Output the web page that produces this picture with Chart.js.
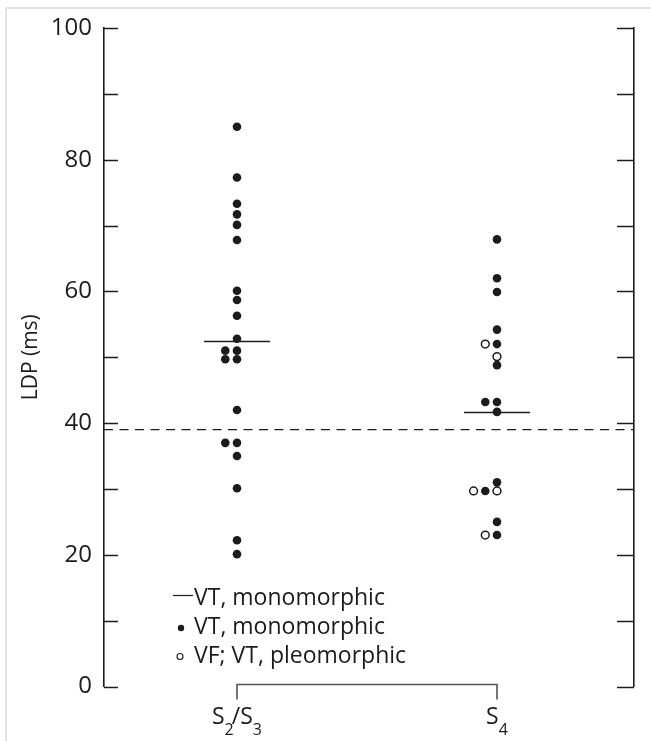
<!DOCTYPE html>
<html>
<head>
<meta charset="utf-8">
<script src="https://cdn.jsdelivr.net/npm/chart.js@4.4.0/dist/chart.umd.min.js"></script>
<style>
  html, body { margin: 0; padding: 0; background: #fff; overflow: hidden; }
  #wrap { position: relative; width: 651px; height: 741px; overflow: hidden; }
  #frame { position: absolute; left: 5px; top: 7px; width: 700px; height: 800px;
           border-top: 2px solid #e3e3e3; border-left: 2px solid #e3e3e3; }
  canvas { position: absolute; left: 0; top: 0; }
</style>
</head>
<body>
<div id="wrap">
  <div id="frame"></div>
  <canvas id="ldpChart" width="651" height="741"></canvas>
</div>
<script>
// categories (underscore = subscript)
const groups = ['S_2/S_3', 'S_4'];
const yTickLabels = [0, 20, 40, 60, 80, 100];
const yTickMarks = [0, 10, 20, 30, 40, 50, 60, 70, 80, 90, 100];
const legendLabels = ['VT, monomorphic', 'VT, monomorphic', 'VF; VT, pleomorphic'];

// S2/S3 - all VT monomorphic (filled)
const s23Filled = [85.0, 77.3, 73.3, 71.7, 70.1, 67.8, 60.1, 58.7, 56.3, 52.8, 51.0, 51.0, 49.7, 49.7, 42.0, 37.0, 37.0, 35.0, 30.1, 22.2, 20.1];
const s23FilledLane = [0, 0, 0, 0, 0, 0, 0, 0, 0, 0, -1, 0, -1, 0, 0, -1, 0, 0, 0, 0, 0];

// S4 - filled (VT monomorphic) and open (VF; VT pleomorphic)
const s4Filled = [67.9, 62.0, 59.9, 54.2, 52.0, 48.8, 43.2, 43.2, 41.7, 31.0, 29.7, 25.0, 23.0];
const s4FilledLane = [0, 0, 0, 0, 0, 0, -1, 0, 0, 0, -1, 0, 0];
const s4Open = [52.0, 50.1, 29.7, 29.7, 23.0];
const s4OpenLane = [-1, 0, -2, 0, -1];

const medians = [52.4, 41.6];
const cutoff = 39;

const FONT = "'Open Sans', sans-serif";
const INK = '#1c1c1c';
const X_MIN = 0.4885, X_MAX = 2.527;
const LANE = 0.045;      // side-by-side dot spacing
const MED_HALF = 0.127;  // half width of median bar

const toPoints = (g, vals, lanes) => vals.map((v, i) => ({ x: g + lanes[i] * LANE, y: v }));

const filledPts = toPoints(1, s23Filled, s23FilledLane).concat(toPoints(2, s4Filled, s4FilledLane));
const openPts = toPoints(2, s4Open, s4OpenLane);

const decor = {
    id: 'decor',
    afterDraw(chart) {
        const ctx = chart.ctx;
        const xs = chart.scales.x, ys = chart.scales.y;
        const area = chart.chartArea;
        ctx.save();

        // tick marks pointing inward on both axes
        ctx.strokeStyle = INK;
        ctx.lineWidth = 1.5;
        yTickMarks.forEach(v => {
            const y = Math.round(ys.getPixelForValue(v)) + 0.5;
            ctx.beginPath();
            ctx.moveTo(area.left, y); ctx.lineTo(area.left + 14, y);
            ctx.moveTo(area.right - 17, y); ctx.lineTo(area.right, y);
            ctx.stroke();
        });

        // bracket joining the groups
        const by = ys.getPixelForValue(0) - 2;
        const x1 = xs.getPixelForValue(1), x2 = xs.getPixelForValue(2);
        ctx.strokeStyle = '#555';
        ctx.lineWidth = 1.6;
        ctx.beginPath();
        ctx.moveTo(x1, by + 15); ctx.lineTo(x1, by); ctx.lineTo(x2, by); ctx.lineTo(x2, by + 15);
        ctx.stroke();

        // category labels with subscripts
        ctx.fillStyle = INK;
        ctx.textBaseline = 'alphabetic';
        groups.forEach((lab, i) => {
            const parts = [];
            lab.split(/(_\w)/).forEach(p => {
                if (!p) return;
                if (p[0] === '_') parts.push({ t: p.slice(1), sub: true });
                else parts.push({ t: p, sub: false });
            });
            let w = 0;
            parts.forEach((p, k) => {
                ctx.font = (p.sub ? '16px ' : '23px ') + FONT;
                p.w = ctx.measureText(p.t).width - (p.sub && k < parts.length - 1 ? 2 : 0);
                w += p.w;
            });
            let x = xs.getPixelForValue(i + 1) - w / 2;
            parts.forEach(p => {
                ctx.font = (p.sub ? '16px ' : '23px ') + FONT;
                ctx.fillText(p.t, x, p.sub ? 735 : 724);
                x += p.w;
            });
        });

        // legend
        const rows = [605, 634, 662.5];
        ctx.font = '23px ' + FONT;
        ctx.fillStyle = INK;
        legendLabels.forEach((t, i) => ctx.fillText(t, 194, rows[i]));
        ctx.strokeStyle = INK;
        ctx.lineWidth = 1.2;
        ctx.beginPath();
        ctx.moveTo(173, rows[0] - 9.5); ctx.lineTo(193, rows[0] - 9.5);
        ctx.stroke();
        ctx.beginPath();
        ctx.arc(181, rows[1] - 6, 3.2, 0, Math.PI * 2);
        ctx.fill();
        ctx.beginPath();
        ctx.lineWidth = 1.1;
        ctx.arc(180, rows[2] - 6, 3, 0, Math.PI * 2);
        ctx.stroke();

        ctx.restore();
    }
};

const ctx = document.getElementById('ldpChart').getContext('2d');
new Chart(ctx, {
    type: 'scatter',
    data: {
        datasets: [
            {
                label: 'VT, monomorphic',
                data: filledPts,
                pointRadius: 4.3,
                pointBorderWidth: 0,
                backgroundColor: INK,
                borderColor: INK
            },
            {
                label: 'VF; VT, pleomorphic',
                data: openPts,
                pointRadius: 3.9,
                pointBorderWidth: 1.5,
                backgroundColor: '#ffffff',
                borderColor: INK
            },
            {
                label: 'median S2/S3',
                data: [{ x: 1 - MED_HALF, y: medians[0] }, { x: 1 + MED_HALF, y: medians[0] }],
                showLine: true,
                pointRadius: 0,
                borderColor: INK,
                borderWidth: 1.5
            },
            {
                label: 'median S4',
                data: [{ x: 2 - MED_HALF, y: medians[1] }, { x: 2 + MED_HALF, y: medians[1] }],
                showLine: true,
                pointRadius: 0,
                borderColor: INK,
                borderWidth: 1.5
            },
            {
                label: 'cutoff',
                data: [{ x: X_MIN, y: cutoff }, { x: X_MAX, y: cutoff }],
                showLine: true,
                pointRadius: 0,
                borderColor: INK,
                borderWidth: 1.3,
                borderDash: [9, 6.5]
            }
        ]
    },
    options: {
        responsive: false,
        animation: false,
        devicePixelRatio: 1,
        layout: {
            padding: { top: 28, bottom: 54.5, left: 0, right: 0 }
        },
        plugins: {
            legend: { display: false },
            tooltip: { enabled: false }
        },
        scales: {
            x: {
                type: 'linear',
                min: X_MIN,
                max: X_MAX,
                display: false
            },
            y: {
                position: 'left',
                min: 0,
                max: 100,
                afterBuildTicks: s => { s.ticks = yTickLabels.map(v => ({ value: v })); },
                afterFit: s => { s.width = 104; },
                grid: { display: false, drawTicks: false },
                border: { display: true, color: INK, width: 1.6 },
                ticks: {
                    padding: 12,
                    color: INK,
                    font: { family: FONT, size: 24 }
                },
                title: {
                    display: true,
                    text: 'LDP (ms)',
                    color: INK,
                    font: { family: FONT, size: 21 },
                    padding: { top: 18, bottom: 0 }
                }
            },
            y2: {
                position: 'right',
                min: 0,
                max: 100,
                afterFit: s => { s.width = 17; },
                grid: { display: false, drawTicks: false },
                ticks: { display: false },
                border: { display: true, color: INK, width: 1.6 }
            }
        }
    },
    plugins: [decor]
});
</script>
</body>
</html>
